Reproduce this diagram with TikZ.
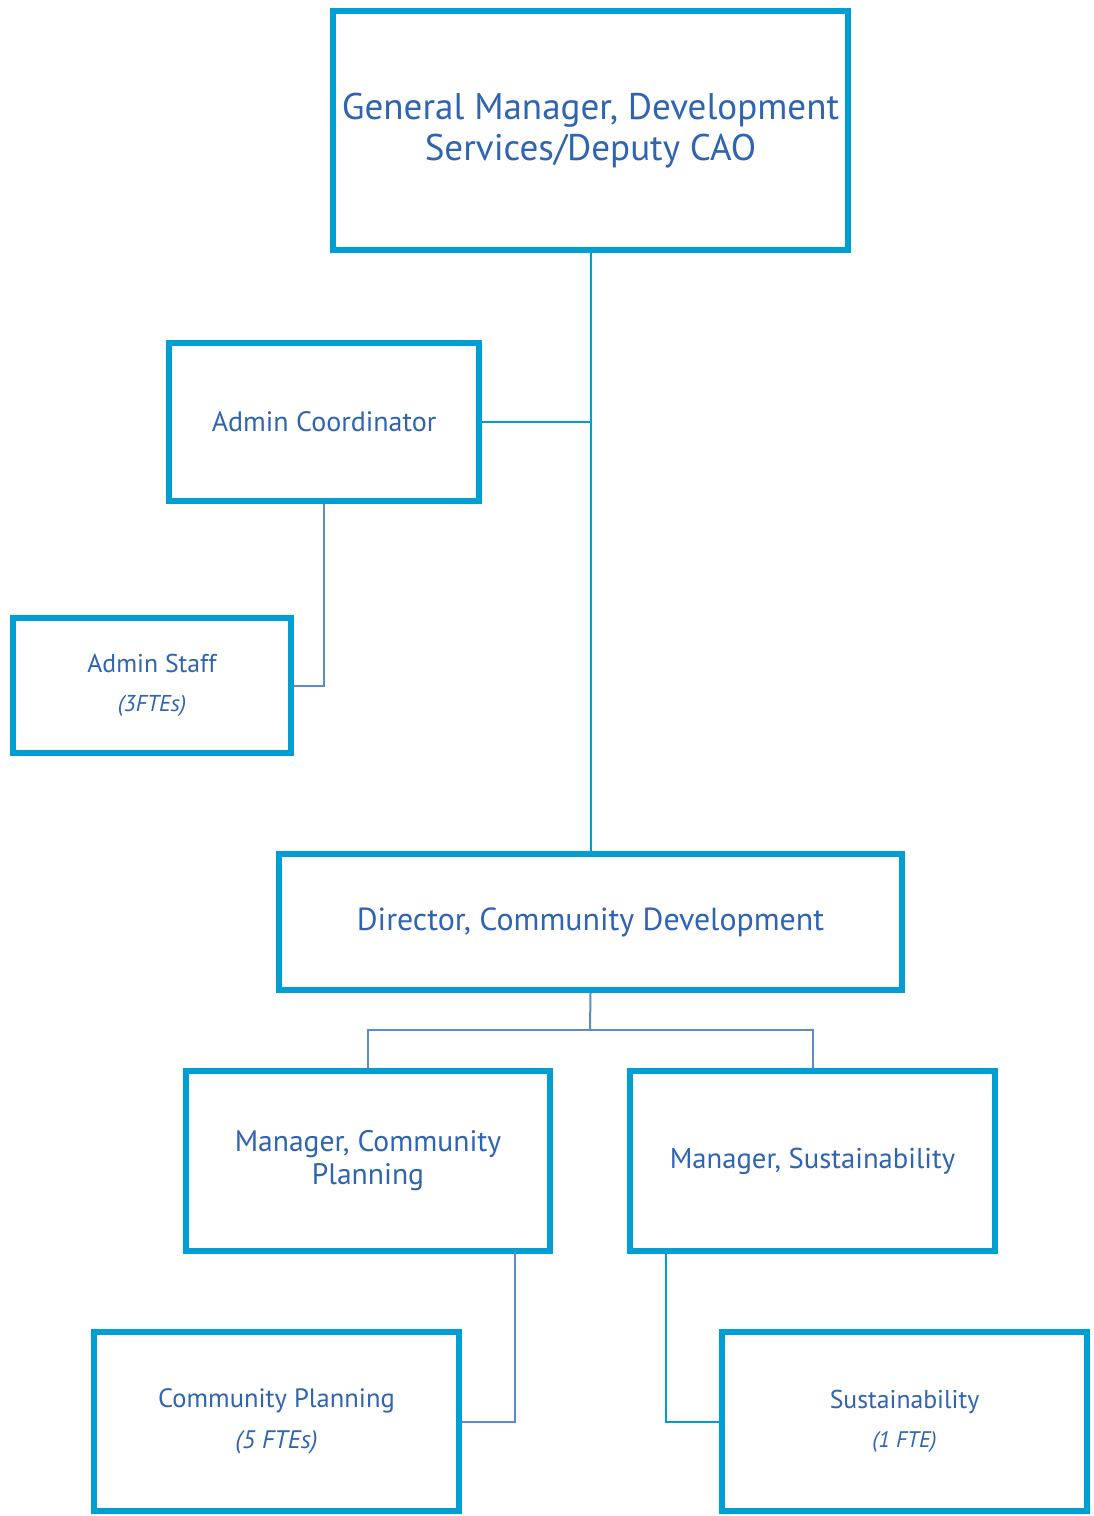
\documentclass[tikz,border=0pt]{standalone}
\usepackage{fontspec}
\setmainfont{PT Sans}
\usetikzlibrary{calc}

\definecolor{boxcyan}{RGB}{0,159,211}
\definecolor{textblue}{RGB}{46,100,178}
\definecolor{linksteel}{RGB}{90,140,198}

\tikzset{
  orgbox/.style={draw=boxcyan, line width=4.5pt, fill=white, rectangle, inner sep=0pt, align=center, text=textblue},
  linkcyan/.style={draw=boxcyan, line width=1.5pt},
  linkblue/.style={draw=linksteel, line width=1.5pt},
}

\begin{document}
\begin{tikzpicture}[x=0.75pt,y=0.75pt,yscale=-1,xscale=1]
\useasboundingbox (0,0) rectangle (1094,1516);

%Shape: Rectangle [General Manager]
\node [orgbox, minimum width=386.25pt, minimum height=179.25pt, font=\fontsize{27.8}{31}\selectfont] (gm) at (590.5,130.5) {General Manager, Development\\Services/Deputy CAO};
%Shape: Rectangle [Admin Coordinator]
\node [orgbox, minimum width=232.5pt, minimum height=118.5pt, font=\fontsize{21}{25}\selectfont] (admco) at (324,422) {Admin Coordinator};
%Shape: Rectangle [Admin Staff]
\node [orgbox, minimum width=208.5pt, minimum height=101.25pt, font=\fontsize{19.3}{23}\selectfont] (admst) at (152,685.5) {Admin Staff\\[6pt]{\fontsize{17.2}{20}\selectfont\itshape (3FTEs)}};
%Shape: Rectangle [Director]
\node [orgbox, minimum width=467.25pt, minimum height=102pt, font=\fontsize{23.9}{28}\selectfont] (dir) at (590.5,922) {Director, Community Development};
%Shape: Rectangle [Manager, Community Planning]
\node [orgbox, minimum width=273pt, minimum height=135pt, font=\fontsize{22.2}{24.8}\selectfont] (mgrcp) at (368,1161) {Manager, Community\\Planning};
%Shape: Rectangle [Manager, Sustainability]
\node [orgbox, minimum width=273.75pt, minimum height=135pt, font=\fontsize{21.5}{25}\selectfont] (mgrsu) at (812.5,1161) {Manager, Sustainability};
%Shape: Rectangle [Community Planning]
\node [orgbox, minimum width=273.75pt, minimum height=134.25pt, font=\fontsize{19.9}{23}\selectfont] (cp) at (276.5,1421.5) {Community Planning\\[7.5pt]{\fontsize{19}{22}\selectfont\itshape (5 FTEs)}};
%Shape: Rectangle [Sustainability]
\node [orgbox, minimum width=273.75pt, minimum height=134.25pt, font=\fontsize{19.3}{23}\selectfont] (su) at (904.5,1421.5) {Sustainability\\[6pt]{\fontsize{16.9}{20}\selectfont\itshape (1 FTE)}};

%Straight Lines
\coordinate (dirjoin) at (590,1030);
\coordinate (cpout) at (515,1251);
\coordinate (suout) at (666,1251);

\draw [linkcyan] (gm.south) -- (dir.north);
\draw [linkcyan] (admco.east) -- (gm.south |- admco.east);
\draw [linkblue] (admco.south) |- (admst.east);
\draw [linkblue] (dir.south) -- (dirjoin);
\draw [linkblue] (dirjoin) -| (mgrcp.north);
\draw [linkblue] (dirjoin) -| (mgrsu.north);
\draw [linkblue] (cpout) |- (cp.east);
\draw [linkcyan] (suout) |- (su.west);

\end{tikzpicture}
\end{document}
